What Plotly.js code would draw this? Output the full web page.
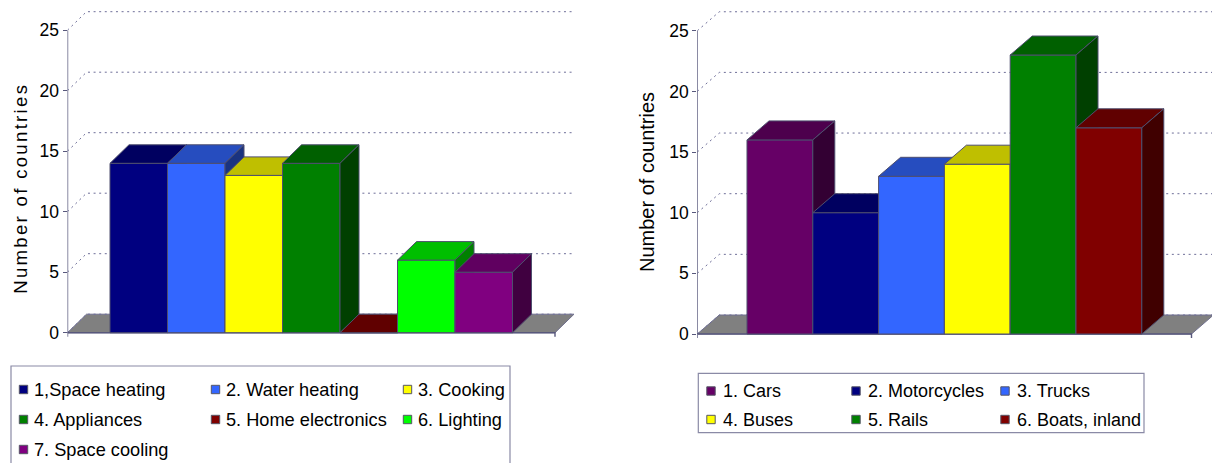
<!DOCTYPE html>
<html><head><meta charset="utf-8">
<script src="https://cdn.plot.ly/plotly-3.0.1.min.js"></script>
<style>
html,body{margin:0;padding:0;background:#fff}
g.annotation[data-index="0"] text{letter-spacing:2.3px}
</style>
</head><body>
<div id="chart" style="width:1212px;height:463px"></div>
<script>
// ---------------- data ----------------
const homeCategories = ["1,Space heating","2. Water heating","3. Cooking","4. Appliances","5. Home electronics","6. Lighting","7. Space cooling"];
const homeValues = [14,14,13,14,0,6,5];
const homeColors = ["#000080","#3366FF","#FFFF00","#008000","#800000","#00FF00","#800080"];

const transportCategories = ["1. Cars","2. Motorcycles","3. Trucks","4. Buses","5. Rails","6. Boats, inland"];
const transportValues = [16,10,13,14,23,17];
const transportColors = ["#660066","#000080","#3366FF","#FFFF00","#008000","#800000"];

const yTickValues = [0,5,10,15,20,25];
const yAxisTitle = "Number of countries";

// ---------------- layout constants ----------------
const W = 1212, H = 463;
const EDGE = "#4e4e6e", AXIS = "#58587c", GRID = "#6e6e98", FLOOR = "#808080";
const SANS = "'Liberation Sans',Arial,sans-serif";
const TICKFONT = {family:SANS, size:17.5, color:"#000"};
const LEG_L_FONT = {family:SANS, size:18.2, color:"#000"};
const LEG_R_FONT = {family:SANS, size:18, color:"#000"};
const TITLE_L_FONT = {family:SANS, size:18.6, color:"#000"};
const TITLE_R_FONT = {family:SANS, size:20, color:"#000"};

function shade(hex, f){
  const n = parseInt(hex.slice(1),16);
  const r = Math.round(((n>>16)&255)*f), g = Math.round(((n>>8)&255)*f), b = Math.round((n&255)*f);
  return "rgb("+r+","+g+","+b+")";
}

const panels = [
  {cats:homeCategories, vals:homeValues, cols:homeColors, xa:"x", ya:"y",
   axisPx:67.5, barStartPx:110, barPx:57.5, zeroPx:332.7, unitPx:12.1, rightPx:600, bottomPx:345, dxPx:19, dyPx:18.5},
  {cats:transportCategories, vals:transportValues, cols:transportColors, xa:"x2", ya:"y2",
   axisPx:697.3, barStartPx:747, barPx:65.8, zeroPx:334, unitPx:12.13, rightPx:1212, bottomPx:346, dxPx:22, dyPx:19}
];

const data = [];
const layout = {
  width:W, height:H, margin:{l:0,r:0,t:0,b:0,pad:0},
  paper_bgcolor:"#fff", plot_bgcolor:"rgba(0,0,0,0)", showlegend:false,
  shapes:[], annotations:[]
};

panels.forEach((p, pi) => {
  const n = p.vals.length;
  const gap = (p.barStartPx - p.axisPx)/p.barPx;
  const xL = -gap, xR = n + gap;
  const dx = p.dxPx/p.barPx, dy = p.dyPx/p.unitPx;
  const tk = 4/p.unitPx;
  const sfx = pi === 0 ? "" : "2";
  layout["xaxis"+sfx] = {
    domain:[p.axisPx/W, p.rightPx/W], range:[xL, xL + (p.rightPx-p.axisPx)/p.barPx],
    visible:false, fixedrange:true, anchor:"y"+sfx
  };
  layout["yaxis"+sfx] = {
    domain:[(H-p.bottomPx)/H, 1], range:[-(p.bottomPx-p.zeroPx)/p.unitPx, p.zeroPx/p.unitPx],
    anchor:"x"+sfx, tickmode:"array", tickvals:yTickValues, ticktext:yTickValues.map(String),
    ticks:"outside", ticklen:4, tickwidth:1, tickcolor:AXIS, showline:false, showgrid:false,
    zeroline:false, tickfont:TICKFONT, fixedrange:true
  };
  const base = {xaxis:p.xa, yaxis:p.ya, hoverinfo:"skip", showlegend:false};
  // floor
  data.push(Object.assign({}, base, {type:"scatter", mode:"lines",
    x:[xL,xR,xR+dx,xL+dx,xL], y:[0,0,dy,dy,0], fill:"toself", fillcolor:FLOOR,
    line:{color:"#70708e", width:1}}));
  // gridlines (back wall + left wall diagonals)
  const gx = [], gy = [];
  yTickValues.forEach(v => { gx.push(xL, xL+dx, xR+dx, null); gy.push(v, v+dy, v+dy, null); });
  data.push(Object.assign({}, base, {type:"scatter", mode:"lines", x:gx, y:gy,
    line:{color:GRID, width:1, dash:"2px,3.6px"}}));
  // axis lines
  const ymax = yTickValues[yTickValues.length-1];
  data.push(Object.assign({}, base, {type:"scatter", mode:"lines",
    x:[xL, xL, null, xL, xL, xR, xR], y:[ymax, 0, null, -tk, 0, 0, -tk],
    line:{color:AXIS, width:1.4}}));
  // 3D bars, painted left to right
  p.vals.forEach((v, i) => {
    const c = p.cols[i];
    const ln = {color:EDGE, width:1};
    data.push(Object.assign({}, base, {type:"scatter", mode:"lines", name:p.cats[i],
      x:[i,i+1,i+1,i,i], y:[0,0,v,v,0], fill:"toself", fillcolor:c, line:ln}));
    data.push(Object.assign({}, base, {type:"scatter", mode:"lines", name:p.cats[i]+" top",
      x:[i,i+1,i+1+dx,i+dx,i], y:[v,v,v+dy,v+dy,v], fill:"toself", fillcolor:shade(c,0.75), line:ln}));
    if (v > 0) {
      data.push(Object.assign({}, base, {type:"scatter", mode:"lines", name:p.cats[i]+" side",
        x:[i+1,i+1+dx,i+1+dx,i+1,i+1], y:[0,dy,v+dy,v,0], fill:"toself", fillcolor:shade(c,0.5), line:ln}));
    }
  });
});

// axis titles
function px2x(px){ return px/W; }
function py2y(py){ return 1 - py/H; }
layout.annotations.push({text:yAxisTitle, textangle:-90, xref:"paper", yref:"paper",
  x:px2x(20.5), y:py2y(274), xanchor:"center", yanchor:"bottom", showarrow:false, font:TITLE_L_FONT});
layout.annotations.push({text:yAxisTitle, textangle:-90, xref:"paper", yref:"paper",
  x:px2x(647), y:py2y(274), xanchor:"center", yanchor:"bottom", showarrow:false, font:TITLE_R_FONT});

// legends
const legends = [
  {cats:homeCategories, cols:homeColors, box:[11,366,510,490], colX:[32,224,416], rowY:[389.5,419.5,449.5], font:LEG_L_FONT, mOff:8.5},
  {cats:transportCategories, cols:transportColors, box:[698.3,373.3,1144,432.7], colX:[721,866,1015], rowY:[391,419.5], font:LEG_R_FONT, mOff:10}
];
legends.forEach(L => {
  layout.shapes.push({type:"rect", xref:"paper", yref:"paper",
    x0:px2x(L.box[0]), x1:px2x(L.box[2]), y0:py2y(L.box[1]), y1:py2y(L.box[3]),
    line:{color:"#8a8aa6", width:1.2}, fillcolor:"rgba(0,0,0,0)"});
  L.cats.forEach((name, i) => {
    const tx = L.colX[i%3], ty = L.rowY[Math.floor(i/3)];
    const s = 4.2, cx = tx - L.mOff;
    layout.shapes.push({type:"rect", xref:"paper", yref:"paper",
      x0:px2x(cx-s), x1:px2x(cx+s), y0:py2y(ty-s), y1:py2y(ty+s),
      fillcolor:L.cols[i], line:{color:"#555566", width:1}});
    layout.annotations.push({text:name, xref:"paper", yref:"paper", x:px2x(tx), y:py2y(ty),
      xanchor:"left", yanchor:"middle", showarrow:false, font:L.font});
  });
});

Plotly.newPlot("chart", data, layout, {staticPlot:true, displayModeBar:false});
</script>
</body></html>
